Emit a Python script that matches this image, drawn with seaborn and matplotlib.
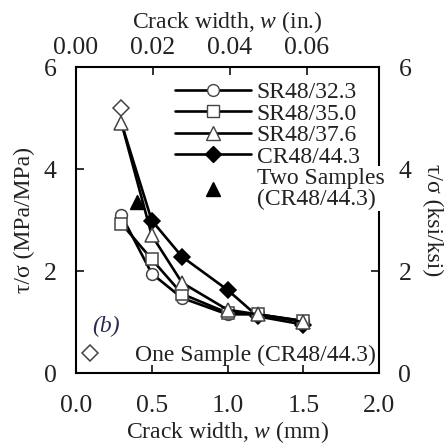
import numpy as np
import pandas as pd
import matplotlib
matplotlib.use("Agg")
import matplotlib.pyplot as plt
import seaborn as sns
from matplotlib.lines import Line2D

sns.set_theme(style="white")
plt.rcParams['font.family'] = ['Liberation Serif', 'DejaVu Serif']
plt.rcParams['mathtext.fontset'] = 'custom'
plt.rcParams['mathtext.it'] = 'Liberation Serif:italic'
plt.rcParams['mathtext.rm'] = 'Liberation Serif'

crack_mm = [0.3, 0.5, 0.7, 1.0, 1.2, 1.5]
sr323 = [3.09, 1.95, 1.47, 1.15, 1.15, 1.02]
sr350 = [2.93, 2.23, 1.55, 1.18, 1.15, 1.02]
sr376 = [4.90, 2.70, 1.77, 1.24, 1.15, 1.00]
cr443 = [4.90, 2.99, 2.28, 1.63, 1.11, 0.95]
two_x = [0.40]
two_y = [3.35]
one_x = [0.30]
one_y = [5.19]

series = {
    "SR48/32.3": sr323,
    "SR48/35.0": sr350,
    "SR48/37.6": sr376,
    "CR48/44.3": cr443,
}
df = pd.DataFrame([(k, x, y) for k, v in series.items() for x, y in zip(crack_mm, v)],
                  columns=["series", "w", "ratio"])

fig = plt.figure(figsize=(4.47, 4.44), dpi=100)
ax = fig.add_axes([76 / 447, 1 - 373 / 444, 303 / 447, 306 / 444])

fs = 17
tfs = 18.5
lw = 1.9
edge = "#444444"
styles = {
    "SR48/32.3": dict(marker="o", mfc="white", mec=edge, ms=8.5),
    "SR48/35.0": dict(marker="s", mfc="white", mec=edge, ms=8.5),
    "SR48/37.6": dict(marker="^", mfc="white", mec=edge, ms=10.5),
    "CR48/44.3": dict(marker="D", mfc="black", mec="black", ms=8),
}
order = ["CR48/44.3", "SR48/32.3", "SR48/35.0", "SR48/37.6"]
for name in order:
    st = styles[name]
    sub = df[df.series == name]
    me = list(range(1, len(sub))) if name == "CR48/44.3" else None
    sns.lineplot(data=sub, x="w", y="ratio", ax=ax, color="black", lw=lw,
                 marker=st["marker"], markerfacecolor=st["mfc"], markeredgecolor=st["mec"],
                 markersize=st["ms"], markeredgewidth=1.1, markevery=me, legend=False,
                 zorder=3)

ax.plot(two_x, two_y, linestyle="none", marker="^", color="black", ms=9.5, zorder=4)
ax.plot(one_x, one_y, linestyle="none", marker="D", mfc="white", mec=edge, ms=8.5, mew=1.1, zorder=5)

ax.set_xlim(0, 2.0)
ax.set_ylim(0, 6)
ax.set_xticks([0.0, 0.5, 1.0, 1.5, 2.0])
ax.set_xticklabels(["0.0", "0.5", "1.0", "1.5", "2.0"])
ax.set_yticks([0, 2, 4, 6])
ax.tick_params(axis="x", direction="in", length=6, width=1.3, labelsize=tfs, colors="#222222",
               bottom=True, pad=16)
ax.tick_params(axis="y", direction="in", length=6, width=1.3, labelsize=tfs, colors="#222222",
               left=True, pad=14)
for s in ax.spines.values():
    s.set_color("black")
    s.set_linewidth(1.5)
ax.set_xlabel("Crack width, $\\mathit{w}$ (mm)", fontsize=fs, labelpad=1, color="#222222")
ax.set_ylabel("τ/σ (MPa/MPa)", fontsize=fs, labelpad=6, color="#222222")

top = ax.secondary_xaxis("top", functions=(lambda x: x / 25.4, lambda x: x * 25.4))
top.set_xticks([0.00, 0.02, 0.04, 0.06])
top.set_xticklabels(["0.00", "0.02", "0.04", "0.06"])
top.tick_params(direction="in", length=6, width=1.3, labelsize=tfs, pad=6, colors="#222222")
top.set_xlabel("Crack width, $\\mathit{w}$ (in.)", fontsize=fs, labelpad=6, color="#222222")

right = ax.secondary_yaxis("right")
right.set_yticks([0, 2, 4, 6])
right.tick_params(direction="in", length=6, width=1.3, labelsize=tfs, pad=14, colors="#222222")
right.set_ylabel("τ/σ (ksi/ksi)", fontsize=fs, rotation=270, labelpad=8, va="bottom",
                 color="#222222")

handles = [
    Line2D([], [], color="black", lw=lw, marker="o", mfc="white", mec=edge, ms=8.5),
    Line2D([], [], color="black", lw=lw, marker="s", mfc="white", mec=edge, ms=8.5),
    Line2D([], [], color="black", lw=lw, marker="^", mfc="white", mec=edge, ms=10.5),
    Line2D([], [], color="black", lw=lw, marker="D", mfc="black", mec="black", ms=8),
    Line2D([], [], color="black", lw=0, marker="^", ms=9.5),
]
labels = ["SR48/32.3", "SR48/35.0", "SR48/37.6", "CR48/44.3", "Two Samples\n(CR48/44.3)"]
leg = ax.legend(handles, labels, loc="upper left", bbox_to_anchor=(0.32, 0.96),
                frameon=False, fontsize=fs, handlelength=3.2, handletextpad=0.25,
                labelspacing=0.0, borderpad=0.1, borderaxespad=0)
leg.set_zorder(10)
for t in leg.get_texts():
    t.set_linespacing(1.0)
    t.set_color("#222222")
leg.get_texts()[-1].set_bbox(dict(facecolor="white", edgecolor="none", pad=1))
ax.add_artist(leg)

leg2 = ax.legend([Line2D([], [], lw=0, marker="D", mfc="white", mec=edge, ms=8.5, mew=1.1)],
                 ["One Sample (CR48/44.3)"], loc="lower left", bbox_to_anchor=(0.0, 0.015),
                 frameon=False, fontsize=fs, handlelength=1.0, handletextpad=1.4,
                 borderpad=0.1, borderaxespad=0)
leg2.set_zorder(10)
for t in leg2.get_texts():
    t.set_color("#222222")

ax.text(0.055, 0.135, "(b)", transform=ax.transAxes, fontsize=fs, style="italic",
        color="#2a2a55")

fig.savefig("out.png", dpi=100)
